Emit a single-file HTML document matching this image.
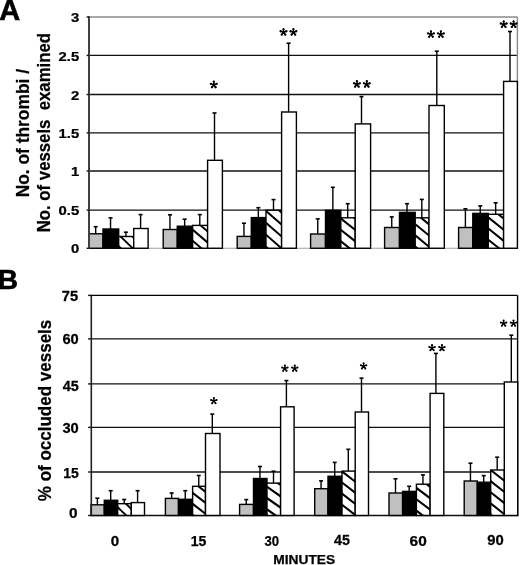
<!DOCTYPE html>
<html><head><meta charset="utf-8"><style>
html,body{margin:0;padding:0;background:#fff;width:520px;height:565px;overflow:hidden}
svg{display:block;filter:grayscale(1)}
text{font-family:"Liberation Sans", sans-serif;fill:#000}
</style></head><body>
<svg width="520" height="565" viewBox="0 0 520 565">
<defs>
</defs>
<rect width="520" height="565" fill="#fff"/>
<line x1="89" y1="210.1" x2="517.4" y2="210.1" stroke="#111" stroke-width="1.4"/>
<line x1="89" y1="171" x2="517.4" y2="171" stroke="#111" stroke-width="1.4"/>
<line x1="89" y1="132.9" x2="517.4" y2="132.9" stroke="#111" stroke-width="1.4"/>
<line x1="89" y1="94.55" x2="517.4" y2="94.55" stroke="#111" stroke-width="1.4"/>
<line x1="89" y1="55.4" x2="517.4" y2="55.4" stroke="#111" stroke-width="1.4"/>
<line x1="89" y1="17" x2="517.4" y2="17" stroke="#8a8a8a" stroke-width="1.4"/>
<line x1="517.4" y1="17" x2="517.4" y2="248.25" stroke="#8a8a8a" stroke-width="1.4"/>
<line x1="89" y1="248.25" x2="518.1" y2="248.25" stroke="#a0a0a0" stroke-width="1.2"/>
<rect x="89" y="233.8" width="14" height="14.45" fill="#c0c0c0" stroke="#000" stroke-width="1.4"/>
<rect x="103" y="229" width="15.7" height="19.25" fill="#000" stroke="#000" stroke-width="1.4"/>
<clipPath id="cA0"><rect x="118.7" y="236.5" width="15" height="11.75"/></clipPath>
<rect x="118.7" y="236.5" width="15" height="11.75" fill="#fff"/>
<path clip-path="url(#cA0)" d="M115.7,197.29L136.7,217.66M115.7,208.79L136.7,229.16M115.7,220.29L136.7,240.66M115.7,231.79L136.7,252.16M115.7,243.29L136.7,263.66M115.7,254.79L136.7,275.16M115.7,266.29L136.7,286.66" stroke="#000" stroke-width="1.87" fill="none"/>
<rect x="118.7" y="236.5" width="15" height="11.75" fill="none" stroke="#000" stroke-width="1.4"/>
<rect x="133.7" y="228.5" width="14.4" height="19.75" fill="#fff" stroke="#000" stroke-width="1.4"/>
<rect x="163.2" y="229.5" width="14.1" height="18.75" fill="#c0c0c0" stroke="#000" stroke-width="1.4"/>
<rect x="177.3" y="226.2" width="15.3" height="22.05" fill="#000" stroke="#000" stroke-width="1.4"/>
<clipPath id="cA1"><rect x="192.6" y="225.4" width="15" height="22.85"/></clipPath>
<rect x="192.6" y="225.4" width="15" height="22.85" fill="#fff"/>
<path clip-path="url(#cA1)" d="M189.6,193.72L210.6,211.78M189.6,204.82L210.6,222.88M189.6,215.92L210.6,233.98M189.6,227.02L210.6,245.08M189.6,238.12L210.6,256.18M189.6,249.22L210.6,267.28M189.6,260.32L210.6,278.38" stroke="#000" stroke-width="1.97" fill="none"/>
<rect x="192.6" y="225.4" width="15" height="22.85" fill="none" stroke="#000" stroke-width="1.4"/>
<rect x="207.6" y="160.3" width="14.8" height="87.95" fill="#fff" stroke="#000" stroke-width="1.4"/>
<rect x="237.2" y="236.4" width="14.1" height="11.85" fill="#c0c0c0" stroke="#000" stroke-width="1.4"/>
<rect x="251.3" y="217.6" width="14.7" height="30.65" fill="#000" stroke="#000" stroke-width="1.4"/>
<clipPath id="cA2"><rect x="266" y="210.2" width="15.6" height="38.05"/></clipPath>
<rect x="266" y="210.2" width="15.6" height="38.05" fill="#fff"/>
<path clip-path="url(#cA2)" d="M263,172.69L284.6,191.48M263,184.59L284.6,203.38M263,196.49L284.6,215.28M263,208.39L284.6,227.18M263,220.29L284.6,239.08M263,232.19L284.6,250.98M263,244.09L284.6,262.88M263,255.99L284.6,274.78M263,267.89L284.6,286.68" stroke="#000" stroke-width="1.96" fill="none"/>
<rect x="266" y="210.2" width="15.6" height="38.05" fill="none" stroke="#000" stroke-width="1.4"/>
<rect x="281.6" y="112" width="14.8" height="136.25" fill="#fff" stroke="#000" stroke-width="1.4"/>
<rect x="310.6" y="234" width="14.9" height="14.25" fill="#c0c0c0" stroke="#000" stroke-width="1.4"/>
<rect x="325.5" y="210.3" width="15.3" height="37.95" fill="#000" stroke="#000" stroke-width="1.4"/>
<clipPath id="cA3"><rect x="340.8" y="217.8" width="14.4" height="30.45"/></clipPath>
<rect x="340.8" y="217.8" width="14.4" height="30.45" fill="#fff"/>
<path clip-path="url(#cA3)" d="M337.8,181.93L358.2,198.05M337.8,193.33L358.2,209.45M337.8,204.73L358.2,220.85M337.8,216.13L358.2,232.25M337.8,227.53L358.2,243.65M337.8,238.93L358.2,255.05M337.8,250.33L358.2,266.45M337.8,261.73L358.2,277.85" stroke="#000" stroke-width="2.04" fill="none"/>
<rect x="340.8" y="217.8" width="14.4" height="30.45" fill="none" stroke="#000" stroke-width="1.4"/>
<rect x="355.2" y="123.9" width="15.4" height="124.35" fill="#fff" stroke="#000" stroke-width="1.4"/>
<rect x="384.6" y="227.5" width="14.9" height="20.75" fill="#c0c0c0" stroke="#000" stroke-width="1.4"/>
<rect x="399.5" y="212.4" width="15.7" height="35.85" fill="#000" stroke="#000" stroke-width="1.4"/>
<clipPath id="cA4"><rect x="415.2" y="217.8" width="13.8" height="30.45"/></clipPath>
<rect x="415.2" y="217.8" width="13.8" height="30.45" fill="#fff"/>
<path clip-path="url(#cA4)" d="M412.2,188.01L432,204.44M412.2,199.21L432,215.64M412.2,210.41L432,226.84M412.2,221.61L432,238.04M412.2,232.81L432,249.24M412.2,244.01L432,260.44M412.2,255.21L432,271.64M412.2,266.41L432,282.84" stroke="#000" stroke-width="2" fill="none"/>
<rect x="415.2" y="217.8" width="13.8" height="30.45" fill="none" stroke="#000" stroke-width="1.4"/>
<rect x="429" y="105.5" width="15.3" height="142.75" fill="#fff" stroke="#000" stroke-width="1.4"/>
<rect x="458.6" y="227.5" width="14.2" height="20.75" fill="#c0c0c0" stroke="#000" stroke-width="1.4"/>
<rect x="472.8" y="213.4" width="15.5" height="34.85" fill="#000" stroke="#000" stroke-width="1.4"/>
<clipPath id="cA5"><rect x="488.3" y="214.3" width="15.3" height="33.95"/></clipPath>
<rect x="488.3" y="214.3" width="15.3" height="33.95" fill="#fff"/>
<path clip-path="url(#cA5)" d="M485.3,181.55L506.6,198.59M485.3,192.7L506.6,209.74M485.3,203.85L506.6,220.89M485.3,215L506.6,232.04M485.3,226.15L506.6,243.19M485.3,237.3L506.6,254.34M485.3,248.45L506.6,265.49M485.3,259.6L506.6,276.64" stroke="#000" stroke-width="2.03" fill="none"/>
<rect x="488.3" y="214.3" width="15.3" height="33.95" fill="none" stroke="#000" stroke-width="1.4"/>
<rect x="503.6" y="81.4" width="13.8" height="166.85" fill="#fff" stroke="#000" stroke-width="1.4"/>
<line x1="95.7" y1="233.8" x2="95.7" y2="226.5" stroke="#000" stroke-width="1.4"/>
<rect x="93.7" y="225.9" width="4.0" height="1.6" fill="#000"/>
<line x1="110.55" y1="229" x2="110.55" y2="217.7" stroke="#000" stroke-width="1.4"/>
<rect x="108.55" y="217.1" width="4.0" height="1.6" fill="#000"/>
<line x1="125.9" y1="236.5" x2="125.9" y2="232" stroke="#000" stroke-width="1.4"/>
<rect x="123.9" y="231.4" width="4.0" height="1.6" fill="#000"/>
<line x1="140.6" y1="228.5" x2="140.6" y2="214.4" stroke="#000" stroke-width="1.4"/>
<rect x="138.6" y="213.8" width="4.0" height="1.6" fill="#000"/>
<line x1="169.95" y1="229.5" x2="169.95" y2="214.6" stroke="#000" stroke-width="1.4"/>
<rect x="167.95" y="214" width="4.0" height="1.6" fill="#000"/>
<line x1="184.65" y1="226.2" x2="184.65" y2="219" stroke="#000" stroke-width="1.4"/>
<rect x="182.65" y="218.4" width="4.0" height="1.6" fill="#000"/>
<line x1="199.8" y1="225.4" x2="199.8" y2="214.4" stroke="#000" stroke-width="1.4"/>
<rect x="197.8" y="213.8" width="4.0" height="1.6" fill="#000"/>
<line x1="214.5" y1="160.3" x2="214.5" y2="112.8" stroke="#000" stroke-width="1.4"/>
<rect x="212.5" y="112.2" width="4.0" height="1.6" fill="#000"/>
<line x1="243.95" y1="236.4" x2="243.95" y2="223" stroke="#000" stroke-width="1.4"/>
<rect x="241.95" y="222.4" width="4.0" height="1.6" fill="#000"/>
<line x1="258.35" y1="217.6" x2="258.35" y2="207.5" stroke="#000" stroke-width="1.4"/>
<rect x="256.35" y="206.9" width="4.0" height="1.6" fill="#000"/>
<line x1="273.5" y1="210.2" x2="273.5" y2="199.4" stroke="#000" stroke-width="1.4"/>
<rect x="271.5" y="198.8" width="4.0" height="1.6" fill="#000"/>
<line x1="288.6" y1="112" x2="288.6" y2="43" stroke="#000" stroke-width="1.4"/>
<rect x="286.6" y="42.4" width="4.0" height="1.6" fill="#000"/>
<line x1="317.75" y1="234" x2="317.75" y2="218.7" stroke="#000" stroke-width="1.4"/>
<rect x="315.75" y="218.1" width="4.0" height="1.6" fill="#000"/>
<line x1="332.85" y1="210.3" x2="332.85" y2="187.1" stroke="#000" stroke-width="1.4"/>
<rect x="330.85" y="186.5" width="4.0" height="1.6" fill="#000"/>
<line x1="347.7" y1="217.8" x2="347.7" y2="203.5" stroke="#000" stroke-width="1.4"/>
<rect x="345.7" y="202.9" width="4.0" height="1.6" fill="#000"/>
<line x1="361.5" y1="123.9" x2="361.5" y2="96.4" stroke="#000" stroke-width="1.4"/>
<rect x="359.5" y="95.8" width="4.0" height="1.6" fill="#000"/>
<line x1="391.75" y1="227.5" x2="391.75" y2="216.7" stroke="#000" stroke-width="1.4"/>
<rect x="389.75" y="216.1" width="4.0" height="1.6" fill="#000"/>
<line x1="407.05" y1="212.4" x2="407.05" y2="203.5" stroke="#000" stroke-width="1.4"/>
<rect x="405.05" y="202.9" width="4.0" height="1.6" fill="#000"/>
<line x1="421.8" y1="217.8" x2="421.8" y2="199.2" stroke="#000" stroke-width="1.4"/>
<rect x="419.8" y="198.6" width="4.0" height="1.6" fill="#000"/>
<line x1="436.8" y1="105.5" x2="436.8" y2="51" stroke="#000" stroke-width="1.4"/>
<rect x="434.8" y="50.4" width="4.0" height="1.6" fill="#000"/>
<line x1="465.4" y1="227.5" x2="465.4" y2="208.6" stroke="#000" stroke-width="1.4"/>
<rect x="463.4" y="208" width="4.0" height="1.6" fill="#000"/>
<line x1="480.25" y1="213.4" x2="480.25" y2="205.7" stroke="#000" stroke-width="1.4"/>
<rect x="478.25" y="205.1" width="4.0" height="1.6" fill="#000"/>
<line x1="495.65" y1="214.3" x2="495.65" y2="202.6" stroke="#000" stroke-width="1.4"/>
<rect x="493.65" y="202" width="4.0" height="1.6" fill="#000"/>
<line x1="510" y1="81.4" x2="510" y2="31.3" stroke="#000" stroke-width="1.4"/>
<rect x="508" y="30.7" width="4.0" height="1.6" fill="#000"/>
<line x1="89" y1="16.3" x2="89" y2="248.95" stroke="#404040" stroke-width="2.0"/>
<line x1="86.6" y1="248.3" x2="89" y2="248.3" stroke="#111" stroke-width="1.4"/>
<line x1="86.6" y1="210.1" x2="89" y2="210.1" stroke="#111" stroke-width="1.4"/>
<line x1="86.6" y1="171" x2="89" y2="171" stroke="#111" stroke-width="1.4"/>
<line x1="86.6" y1="132.9" x2="89" y2="132.9" stroke="#111" stroke-width="1.4"/>
<line x1="86.6" y1="94.55" x2="89" y2="94.55" stroke="#111" stroke-width="1.4"/>
<line x1="86.6" y1="55.4" x2="89" y2="55.4" stroke="#111" stroke-width="1.4"/>
<line x1="86.6" y1="17" x2="89" y2="17" stroke="#111" stroke-width="1.4"/>
<line x1="91.3" y1="472" x2="517.6" y2="472" stroke="#111" stroke-width="1.4"/>
<line x1="91.3" y1="427.4" x2="517.6" y2="427.4" stroke="#111" stroke-width="1.4"/>
<line x1="91.3" y1="383.9" x2="517.6" y2="383.9" stroke="#111" stroke-width="1.4"/>
<line x1="91.3" y1="338.9" x2="517.6" y2="338.9" stroke="#111" stroke-width="1.4"/>
<line x1="91.3" y1="295.4" x2="517.6" y2="295.4" stroke="#000" stroke-width="1.4"/>
<line x1="517.6" y1="295.4" x2="517.6" y2="515.45" stroke="#000" stroke-width="1.4"/>
<line x1="91.3" y1="515.45" x2="518.3" y2="515.45" stroke="#111" stroke-width="1.5"/>
<rect x="91" y="504.8" width="13.3" height="10.65" fill="#c0c0c0" stroke="#000" stroke-width="1.4"/>
<rect x="104.3" y="500.3" width="13.4" height="15.15" fill="#000" stroke="#000" stroke-width="1.4"/>
<clipPath id="cB0"><rect x="117.7" y="503.7" width="13.6" height="11.75"/></clipPath>
<rect x="117.7" y="503.7" width="13.6" height="11.75" fill="#fff"/>
<path clip-path="url(#cB0)" d="M114.7,470.55L134.3,489.17M114.7,481.85L134.3,500.47M114.7,493.15L134.3,511.77M114.7,504.45L134.3,523.07M114.7,515.75L134.3,534.37M114.7,527.05L134.3,545.67" stroke="#000" stroke-width="1.88" fill="none"/>
<rect x="117.7" y="503.7" width="13.6" height="11.75" fill="none" stroke="#000" stroke-width="1.4"/>
<rect x="131.3" y="502.6" width="13.2" height="12.85" fill="#fff" stroke="#000" stroke-width="1.4"/>
<rect x="165.4" y="498.4" width="13.1" height="17.05" fill="#c0c0c0" stroke="#000" stroke-width="1.4"/>
<rect x="178.5" y="499.3" width="14.1" height="16.15" fill="#000" stroke="#000" stroke-width="1.4"/>
<clipPath id="cB1"><rect x="192.6" y="486.3" width="12.9" height="29.15"/></clipPath>
<rect x="192.6" y="486.3" width="12.9" height="29.15" fill="#fff"/>
<path clip-path="url(#cB1)" d="M189.6,457.46L208.5,472.2M189.6,468.46L208.5,483.2M189.6,479.46L208.5,494.2M189.6,490.46L208.5,505.2M189.6,501.46L208.5,516.2M189.6,512.46L208.5,527.2M189.6,523.46L208.5,538.2M189.6,534.46L208.5,549.2" stroke="#000" stroke-width="2.05" fill="none"/>
<rect x="192.6" y="486.3" width="12.9" height="29.15" fill="none" stroke="#000" stroke-width="1.4"/>
<rect x="205.5" y="433.5" width="14.5" height="81.95" fill="#fff" stroke="#000" stroke-width="1.4"/>
<rect x="239.6" y="504.4" width="13.9" height="11.05" fill="#c0c0c0" stroke="#000" stroke-width="1.4"/>
<rect x="253.5" y="478.5" width="13.5" height="36.95" fill="#000" stroke="#000" stroke-width="1.4"/>
<clipPath id="cB2"><rect x="267" y="483.1" width="13.6" height="32.35"/></clipPath>
<rect x="267" y="483.1" width="13.6" height="32.35" fill="#fff"/>
<path clip-path="url(#cB2)" d="M264,450.8L283.6,464.52M264,462.1L283.6,475.82M264,473.4L283.6,487.12M264,484.7L283.6,498.42M264,496L283.6,509.72M264,507.3L283.6,521.02M264,518.6L283.6,532.32M264,529.9L283.6,543.62" stroke="#000" stroke-width="2.13" fill="none"/>
<rect x="267" y="483.1" width="13.6" height="32.35" fill="none" stroke="#000" stroke-width="1.4"/>
<rect x="280.6" y="406.8" width="13.5" height="108.65" fill="#fff" stroke="#000" stroke-width="1.4"/>
<rect x="314.7" y="488.7" width="13.3" height="26.75" fill="#c0c0c0" stroke="#000" stroke-width="1.4"/>
<rect x="328" y="476.3" width="14" height="39.15" fill="#000" stroke="#000" stroke-width="1.4"/>
<clipPath id="cB3"><rect x="342" y="471.1" width="13.2" height="44.35"/></clipPath>
<rect x="342" y="471.1" width="13.2" height="44.35" fill="#fff"/>
<path clip-path="url(#cB3)" d="M339,446.86L358.2,461.84M339,457.96L358.2,472.94M339,469.06L358.2,484.04M339,480.16L358.2,495.14M339,491.26L358.2,506.24M339,502.36L358.2,517.34M339,513.46L358.2,528.44M339,524.56L358.2,539.54" stroke="#000" stroke-width="2.05" fill="none"/>
<rect x="342" y="471.1" width="13.2" height="44.35" fill="none" stroke="#000" stroke-width="1.4"/>
<rect x="355.2" y="412" width="13.3" height="103.45" fill="#fff" stroke="#000" stroke-width="1.4"/>
<rect x="389" y="493" width="13.6" height="22.45" fill="#c0c0c0" stroke="#000" stroke-width="1.4"/>
<rect x="402.6" y="491.4" width="13.8" height="24.05" fill="#000" stroke="#000" stroke-width="1.4"/>
<clipPath id="cB4"><rect x="416.4" y="484.2" width="13.7" height="31.25"/></clipPath>
<rect x="416.4" y="484.2" width="13.7" height="31.25" fill="#fff"/>
<path clip-path="url(#cB4)" d="M413.4,451.45L433.1,466.23M413.4,462.85L433.1,477.62M413.4,474.25L433.1,489.03M413.4,485.65L433.1,500.43M413.4,497.05L433.1,511.82M413.4,508.45L433.1,523.23M413.4,519.85L433.1,534.62M413.4,531.25L433.1,546.03" stroke="#000" stroke-width="2.08" fill="none"/>
<rect x="416.4" y="484.2" width="13.7" height="31.25" fill="none" stroke="#000" stroke-width="1.4"/>
<rect x="430.1" y="393.4" width="13.7" height="122.05" fill="#fff" stroke="#000" stroke-width="1.4"/>
<rect x="464.2" y="481" width="13.1" height="34.45" fill="#c0c0c0" stroke="#000" stroke-width="1.4"/>
<rect x="477.3" y="482.2" width="13.4" height="33.25" fill="#000" stroke="#000" stroke-width="1.4"/>
<clipPath id="cB5"><rect x="490.7" y="470" width="13.6" height="45.45"/></clipPath>
<rect x="490.7" y="470" width="13.6" height="45.45" fill="#fff"/>
<path clip-path="url(#cB5)" d="M487.7,445.33L507.3,460.81M487.7,456.48L507.3,471.96M487.7,467.63L507.3,483.11M487.7,478.78L507.3,494.26M487.7,489.93L507.3,505.41M487.7,501.08L507.3,516.56M487.7,512.23L507.3,527.71M487.7,523.38L507.3,538.86M487.7,534.53L507.3,550.01" stroke="#000" stroke-width="2.04" fill="none"/>
<rect x="490.7" y="470" width="13.6" height="45.45" fill="none" stroke="#000" stroke-width="1.4"/>
<rect x="504.3" y="382" width="13.4" height="133.45" fill="#fff" stroke="#000" stroke-width="1.4"/>
<line x1="97.35" y1="504.8" x2="97.35" y2="498" stroke="#000" stroke-width="1.4"/>
<rect x="95.35" y="497.4" width="4.0" height="1.6" fill="#000"/>
<line x1="110.7" y1="500.3" x2="110.7" y2="490.5" stroke="#000" stroke-width="1.4"/>
<rect x="108.7" y="489.9" width="4.0" height="1.6" fill="#000"/>
<line x1="124.2" y1="503.7" x2="124.2" y2="499.3" stroke="#000" stroke-width="1.4"/>
<rect x="122.2" y="498.7" width="4.0" height="1.6" fill="#000"/>
<line x1="137.6" y1="502.6" x2="137.6" y2="490.5" stroke="#000" stroke-width="1.4"/>
<rect x="135.6" y="489.9" width="4.0" height="1.6" fill="#000"/>
<line x1="171.65" y1="498.4" x2="171.65" y2="492.8" stroke="#000" stroke-width="1.4"/>
<rect x="169.65" y="492.2" width="4.0" height="1.6" fill="#000"/>
<line x1="185.25" y1="499.3" x2="185.25" y2="490.5" stroke="#000" stroke-width="1.4"/>
<rect x="183.25" y="489.9" width="4.0" height="1.6" fill="#000"/>
<line x1="198.75" y1="486.3" x2="198.75" y2="475.3" stroke="#000" stroke-width="1.4"/>
<rect x="196.75" y="474.7" width="4.0" height="1.6" fill="#000"/>
<line x1="212.3" y1="433.5" x2="212.3" y2="413.9" stroke="#000" stroke-width="1.4"/>
<rect x="210.3" y="413.3" width="4.0" height="1.6" fill="#000"/>
<line x1="246.25" y1="504.4" x2="246.25" y2="499.4" stroke="#000" stroke-width="1.4"/>
<rect x="244.25" y="498.8" width="4.0" height="1.6" fill="#000"/>
<line x1="259.95" y1="478.5" x2="259.95" y2="466.3" stroke="#000" stroke-width="1.4"/>
<rect x="257.95" y="465.7" width="4.0" height="1.6" fill="#000"/>
<line x1="273.5" y1="483.1" x2="273.5" y2="471" stroke="#000" stroke-width="1.4"/>
<rect x="271.5" y="470.4" width="4.0" height="1.6" fill="#000"/>
<line x1="286.4" y1="406.8" x2="286.4" y2="380.4" stroke="#000" stroke-width="1.4"/>
<rect x="284.4" y="379.8" width="4.0" height="1.6" fill="#000"/>
<line x1="321.05" y1="488.7" x2="321.05" y2="480.7" stroke="#000" stroke-width="1.4"/>
<rect x="319.05" y="480.1" width="4.0" height="1.6" fill="#000"/>
<line x1="334.7" y1="476.3" x2="334.7" y2="462.2" stroke="#000" stroke-width="1.4"/>
<rect x="332.7" y="461.6" width="4.0" height="1.6" fill="#000"/>
<line x1="348.3" y1="471.1" x2="348.3" y2="449.1" stroke="#000" stroke-width="1.4"/>
<rect x="346.3" y="448.5" width="4.0" height="1.6" fill="#000"/>
<line x1="361.5" y1="412" x2="361.5" y2="377.9" stroke="#000" stroke-width="1.4"/>
<rect x="359.5" y="377.3" width="4.0" height="1.6" fill="#000"/>
<line x1="395.5" y1="493" x2="395.5" y2="478.6" stroke="#000" stroke-width="1.4"/>
<rect x="393.5" y="478" width="4.0" height="1.6" fill="#000"/>
<line x1="409.2" y1="491.4" x2="409.2" y2="486.1" stroke="#000" stroke-width="1.4"/>
<rect x="407.2" y="485.5" width="4.0" height="1.6" fill="#000"/>
<line x1="422.95" y1="484.2" x2="422.95" y2="474.7" stroke="#000" stroke-width="1.4"/>
<rect x="420.95" y="474.1" width="4.0" height="1.6" fill="#000"/>
<line x1="435.9" y1="393.4" x2="435.9" y2="353.2" stroke="#000" stroke-width="1.4"/>
<rect x="433.9" y="352.6" width="4.0" height="1.6" fill="#000"/>
<line x1="470.45" y1="481" x2="470.45" y2="463" stroke="#000" stroke-width="1.4"/>
<rect x="468.45" y="462.4" width="4.0" height="1.6" fill="#000"/>
<line x1="483.7" y1="482.2" x2="483.7" y2="475.4" stroke="#000" stroke-width="1.4"/>
<rect x="481.7" y="474.8" width="4.0" height="1.6" fill="#000"/>
<line x1="497.2" y1="470" x2="497.2" y2="457" stroke="#000" stroke-width="1.4"/>
<rect x="495.2" y="456.4" width="4.0" height="1.6" fill="#000"/>
<line x1="511.3" y1="382" x2="511.3" y2="335" stroke="#000" stroke-width="1.4"/>
<rect x="509.3" y="334.4" width="4.0" height="1.6" fill="#000"/>
<line x1="91.3" y1="294.7" x2="91.3" y2="516.15" stroke="#222" stroke-width="1.6"/>
<line x1="88.1" y1="515.5" x2="91.3" y2="515.5" stroke="#111" stroke-width="1.4"/>
<line x1="88.1" y1="472" x2="91.3" y2="472" stroke="#111" stroke-width="1.4"/>
<line x1="88.1" y1="427.4" x2="91.3" y2="427.4" stroke="#111" stroke-width="1.4"/>
<line x1="88.1" y1="383.9" x2="91.3" y2="383.9" stroke="#111" stroke-width="1.4"/>
<line x1="88.1" y1="338.9" x2="91.3" y2="338.9" stroke="#111" stroke-width="1.4"/>
<line x1="88.1" y1="295.4" x2="91.3" y2="295.4" stroke="#111" stroke-width="1.4"/>
<text transform="translate(79.2,253.14) scale(1.1,1)" text-anchor="end" font-size="13.5" font-weight="bold" stroke="#000" stroke-width="0.25">0</text>
<text transform="translate(79.2,215.44) scale(1.1,1)" text-anchor="end" font-size="13.5" font-weight="bold" stroke="#000" stroke-width="0.25">0.5</text>
<text transform="translate(79.2,175.54) scale(1.1,1)" text-anchor="end" font-size="13.5" font-weight="bold" stroke="#000" stroke-width="0.25">1</text>
<text transform="translate(79.2,137.84) scale(1.1,1)" text-anchor="end" font-size="13.5" font-weight="bold" stroke="#000" stroke-width="0.25">1.5</text>
<text transform="translate(79.2,99.69) scale(1.1,1)" text-anchor="end" font-size="13.5" font-weight="bold" stroke="#000" stroke-width="0.25">2</text>
<text transform="translate(79.2,60.94) scale(1.1,1)" text-anchor="end" font-size="13.5" font-weight="bold" stroke="#000" stroke-width="0.25">2.5</text>
<text transform="translate(79.2,21.79) scale(1.1,1)" text-anchor="end" font-size="13.5" font-weight="bold" stroke="#000" stroke-width="0.25">3</text>
<text transform="translate(77.5,518.47) scale(1.1,1)" text-anchor="end" font-size="14" font-weight="bold" stroke="#000" stroke-width="0.25">0</text>
<text transform="translate(78.8,477.97) scale(1.0,1)" text-anchor="end" font-size="14" font-weight="bold" stroke="#000" stroke-width="0.25">15</text>
<text transform="translate(78.8,433.47) scale(1.05,1)" text-anchor="end" font-size="14" font-weight="bold" stroke="#000" stroke-width="0.25">30</text>
<text transform="translate(78.8,390.97) scale(1.03,1)" text-anchor="end" font-size="14" font-weight="bold" stroke="#000" stroke-width="0.25">45</text>
<text transform="translate(78.8,344.07) scale(1.05,1)" text-anchor="end" font-size="14" font-weight="bold" stroke="#000" stroke-width="0.25">60</text>
<text transform="translate(78.1,301.37) scale(1.05,1)" text-anchor="end" font-size="14" font-weight="bold" stroke="#000" stroke-width="0.25">75</text>
<path d="M213.8,84.8L213.8,81.75M213.8,84.8L216.7,83.86M213.8,84.8L215.59,87.27M213.8,84.8L212.01,87.27M213.8,84.8L210.9,83.86" stroke="#000" stroke-width="1.5" stroke-linecap="round" fill="none"/>
<circle cx="213.8" cy="84.8" r="1.4"/>
<circle cx="213.8" cy="81.75" r="1.15"/>
<circle cx="216.7" cy="83.86" r="1.15"/>
<circle cx="215.59" cy="87.27" r="1.15"/>
<circle cx="212.01" cy="87.27" r="1.15"/>
<circle cx="210.9" cy="83.86" r="1.15"/>
<path d="M283.5,32.2L283.5,29.15M283.5,32.2L286.4,31.26M283.5,32.2L285.29,34.67M283.5,32.2L281.71,34.67M283.5,32.2L280.6,31.26M293.4,32.2L293.4,29.15M293.4,32.2L296.3,31.26M293.4,32.2L295.19,34.67M293.4,32.2L291.61,34.67M293.4,32.2L290.5,31.26" stroke="#000" stroke-width="1.5" stroke-linecap="round" fill="none"/>
<circle cx="283.5" cy="32.2" r="1.4"/>
<circle cx="283.5" cy="29.15" r="1.15"/>
<circle cx="286.4" cy="31.26" r="1.15"/>
<circle cx="285.29" cy="34.67" r="1.15"/>
<circle cx="281.71" cy="34.67" r="1.15"/>
<circle cx="280.6" cy="31.26" r="1.15"/>
<circle cx="293.4" cy="32.2" r="1.4"/>
<circle cx="293.4" cy="29.15" r="1.15"/>
<circle cx="296.3" cy="31.26" r="1.15"/>
<circle cx="295.19" cy="34.67" r="1.15"/>
<circle cx="291.61" cy="34.67" r="1.15"/>
<circle cx="290.5" cy="31.26" r="1.15"/>
<path d="M356.9,84.25L356.9,81.2M356.9,84.25L359.8,83.31M356.9,84.25L358.69,86.72M356.9,84.25L355.11,86.72M356.9,84.25L354,83.31M366.8,84.25L366.8,81.2M366.8,84.25L369.7,83.31M366.8,84.25L368.59,86.72M366.8,84.25L365.01,86.72M366.8,84.25L363.9,83.31" stroke="#000" stroke-width="1.5" stroke-linecap="round" fill="none"/>
<circle cx="356.9" cy="84.25" r="1.4"/>
<circle cx="356.9" cy="81.2" r="1.15"/>
<circle cx="359.8" cy="83.31" r="1.15"/>
<circle cx="358.69" cy="86.72" r="1.15"/>
<circle cx="355.11" cy="86.72" r="1.15"/>
<circle cx="354" cy="83.31" r="1.15"/>
<circle cx="366.8" cy="84.25" r="1.4"/>
<circle cx="366.8" cy="81.2" r="1.15"/>
<circle cx="369.7" cy="83.31" r="1.15"/>
<circle cx="368.59" cy="86.72" r="1.15"/>
<circle cx="365.01" cy="86.72" r="1.15"/>
<circle cx="363.9" cy="83.31" r="1.15"/>
<path d="M430.95,34.35L430.95,31.3M430.95,34.35L433.85,33.41M430.95,34.35L432.74,36.82M430.95,34.35L429.16,36.82M430.95,34.35L428.05,33.41M440.85,34.35L440.85,31.3M440.85,34.35L443.75,33.41M440.85,34.35L442.64,36.82M440.85,34.35L439.06,36.82M440.85,34.35L437.95,33.41" stroke="#000" stroke-width="1.5" stroke-linecap="round" fill="none"/>
<circle cx="430.95" cy="34.35" r="1.4"/>
<circle cx="430.95" cy="31.3" r="1.15"/>
<circle cx="433.85" cy="33.41" r="1.15"/>
<circle cx="432.74" cy="36.82" r="1.15"/>
<circle cx="429.16" cy="36.82" r="1.15"/>
<circle cx="428.05" cy="33.41" r="1.15"/>
<circle cx="440.85" cy="34.35" r="1.4"/>
<circle cx="440.85" cy="31.3" r="1.15"/>
<circle cx="443.75" cy="33.41" r="1.15"/>
<circle cx="442.64" cy="36.82" r="1.15"/>
<circle cx="439.06" cy="36.82" r="1.15"/>
<circle cx="437.95" cy="33.41" r="1.15"/>
<path d="M503.7,24.45L503.7,21.4M503.7,24.45L506.6,23.51M503.7,24.45L505.49,26.92M503.7,24.45L501.91,26.92M503.7,24.45L500.8,23.51M513.6,24.45L513.6,21.4M513.6,24.45L516.5,23.51M513.6,24.45L515.39,26.92M513.6,24.45L511.81,26.92M513.6,24.45L510.7,23.51" stroke="#000" stroke-width="1.5" stroke-linecap="round" fill="none"/>
<circle cx="503.7" cy="24.45" r="1.4"/>
<circle cx="503.7" cy="21.4" r="1.15"/>
<circle cx="506.6" cy="23.51" r="1.15"/>
<circle cx="505.49" cy="26.92" r="1.15"/>
<circle cx="501.91" cy="26.92" r="1.15"/>
<circle cx="500.8" cy="23.51" r="1.15"/>
<circle cx="513.6" cy="24.45" r="1.4"/>
<circle cx="513.6" cy="21.4" r="1.15"/>
<circle cx="516.5" cy="23.51" r="1.15"/>
<circle cx="515.39" cy="26.92" r="1.15"/>
<circle cx="511.81" cy="26.92" r="1.15"/>
<circle cx="510.7" cy="23.51" r="1.15"/>
<path d="M213.85,400.9L213.85,398.05M213.85,400.9L216.56,400.02M213.85,400.9L215.53,403.21M213.85,400.9L212.17,403.21M213.85,400.9L211.14,400.02" stroke="#000" stroke-width="1.3" stroke-linecap="round" fill="none"/>
<circle cx="213.85" cy="400.9" r="1.3"/>
<circle cx="213.85" cy="398.05" r="1.05"/>
<circle cx="216.56" cy="400.02" r="1.05"/>
<circle cx="215.53" cy="403.21" r="1.05"/>
<circle cx="212.17" cy="403.21" r="1.05"/>
<circle cx="211.14" cy="400.02" r="1.05"/>
<path d="M284.85,368.45L284.85,365.6M284.85,368.45L287.56,367.57M284.85,368.45L286.53,370.76M284.85,368.45L283.17,370.76M284.85,368.45L282.14,367.57M294.75,368.45L294.75,365.6M294.75,368.45L297.46,367.57M294.75,368.45L296.43,370.76M294.75,368.45L293.07,370.76M294.75,368.45L292.04,367.57" stroke="#000" stroke-width="1.3" stroke-linecap="round" fill="none"/>
<circle cx="284.85" cy="368.45" r="1.3"/>
<circle cx="284.85" cy="365.6" r="1.05"/>
<circle cx="287.56" cy="367.57" r="1.05"/>
<circle cx="286.53" cy="370.76" r="1.05"/>
<circle cx="283.17" cy="370.76" r="1.05"/>
<circle cx="282.14" cy="367.57" r="1.05"/>
<circle cx="294.75" cy="368.45" r="1.3"/>
<circle cx="294.75" cy="365.6" r="1.05"/>
<circle cx="297.46" cy="367.57" r="1.05"/>
<circle cx="296.43" cy="370.76" r="1.05"/>
<circle cx="293.07" cy="370.76" r="1.05"/>
<circle cx="292.04" cy="367.57" r="1.05"/>
<path d="M363.6,366.15L363.6,363.3M363.6,366.15L366.31,365.27M363.6,366.15L365.28,368.46M363.6,366.15L361.92,368.46M363.6,366.15L360.89,365.27" stroke="#000" stroke-width="1.3" stroke-linecap="round" fill="none"/>
<circle cx="363.6" cy="366.15" r="1.3"/>
<circle cx="363.6" cy="363.3" r="1.05"/>
<circle cx="366.31" cy="365.27" r="1.05"/>
<circle cx="365.28" cy="368.46" r="1.05"/>
<circle cx="361.92" cy="368.46" r="1.05"/>
<circle cx="360.89" cy="365.27" r="1.05"/>
<path d="M432.05,347.95L432.05,345.1M432.05,347.95L434.76,347.07M432.05,347.95L433.73,350.26M432.05,347.95L430.37,350.26M432.05,347.95L429.34,347.07M441.95,347.95L441.95,345.1M441.95,347.95L444.66,347.07M441.95,347.95L443.63,350.26M441.95,347.95L440.27,350.26M441.95,347.95L439.24,347.07" stroke="#000" stroke-width="1.3" stroke-linecap="round" fill="none"/>
<circle cx="432.05" cy="347.95" r="1.3"/>
<circle cx="432.05" cy="345.1" r="1.05"/>
<circle cx="434.76" cy="347.07" r="1.05"/>
<circle cx="433.73" cy="350.26" r="1.05"/>
<circle cx="430.37" cy="350.26" r="1.05"/>
<circle cx="429.34" cy="347.07" r="1.05"/>
<circle cx="441.95" cy="347.95" r="1.3"/>
<circle cx="441.95" cy="345.1" r="1.05"/>
<circle cx="444.66" cy="347.07" r="1.05"/>
<circle cx="443.63" cy="350.26" r="1.05"/>
<circle cx="440.27" cy="350.26" r="1.05"/>
<circle cx="439.24" cy="347.07" r="1.05"/>
<path d="M503.6,323.4L503.6,320.55M503.6,323.4L506.31,322.52M503.6,323.4L505.28,325.71M503.6,323.4L501.92,325.71M503.6,323.4L500.89,322.52M513.5,323.4L513.5,320.55M513.5,323.4L516.21,322.52M513.5,323.4L515.18,325.71M513.5,323.4L511.82,325.71M513.5,323.4L510.79,322.52" stroke="#000" stroke-width="1.3" stroke-linecap="round" fill="none"/>
<circle cx="503.6" cy="323.4" r="1.3"/>
<circle cx="503.6" cy="320.55" r="1.05"/>
<circle cx="506.31" cy="322.52" r="1.05"/>
<circle cx="505.28" cy="325.71" r="1.05"/>
<circle cx="501.92" cy="325.71" r="1.05"/>
<circle cx="500.89" cy="322.52" r="1.05"/>
<circle cx="513.5" cy="323.4" r="1.3"/>
<circle cx="513.5" cy="320.55" r="1.05"/>
<circle cx="516.21" cy="322.52" r="1.05"/>
<circle cx="515.18" cy="325.71" r="1.05"/>
<circle cx="511.82" cy="325.71" r="1.05"/>
<circle cx="510.79" cy="322.52" r="1.05"/>
<text x="-0.7" y="19.6" font-size="29" font-weight="bold" stroke="#000" stroke-width="0.6">A</text>
<text x="-2.2" y="289.4" font-size="28" font-weight="bold" stroke="#000" stroke-width="0.6">B</text>
<text transform="translate(29.2,197.3) rotate(-90)" font-size="18.5" font-weight="bold" stroke="#000" stroke-width="0.25" textLength="128.3" lengthAdjust="spacingAndGlyphs">No. of thrombi /</text>
<text transform="translate(50.4,232.3) rotate(-90)" font-size="18.5" font-weight="bold" stroke="#000" stroke-width="0.25" textLength="199.3" lengthAdjust="spacingAndGlyphs" xml:space="preserve" style="white-space:pre">No. of vessels  examined</text>
<text transform="translate(50.5,501.2) rotate(-90)" font-size="18.5" font-weight="bold" stroke="#000" stroke-width="0.25" textLength="181.5" lengthAdjust="spacingAndGlyphs">% of occluded vessels</text>
<text transform="translate(115,545.87) scale(1.08,1)" text-anchor="middle" font-size="14" font-weight="bold" stroke="#000" stroke-width="0.25">0</text>
<text transform="translate(198.45,546.12) scale(1.0,1)" text-anchor="middle" font-size="14" font-weight="bold" stroke="#000" stroke-width="0.25">15</text>
<text transform="translate(271.7,546.37) scale(0.94,1)" text-anchor="middle" font-size="14" font-weight="bold" stroke="#000" stroke-width="0.25">30</text>
<text transform="translate(342,545.37) scale(1.02,1)" text-anchor="middle" font-size="14" font-weight="bold" stroke="#000" stroke-width="0.25">45</text>
<text transform="translate(418.15,545.87) scale(1.1,1)" text-anchor="middle" font-size="14" font-weight="bold" stroke="#000" stroke-width="0.25">60</text>
<text transform="translate(495.4,544.97) scale(1.06,1)" text-anchor="middle" font-size="14" font-weight="bold" stroke="#000" stroke-width="0.25">90</text>
<text x="273.2" y="564.2" font-size="13.5" font-weight="bold" textLength="62" lengthAdjust="spacingAndGlyphs" stroke="#000" stroke-width="0.25">MINUTES</text>
</svg>
</body></html>
